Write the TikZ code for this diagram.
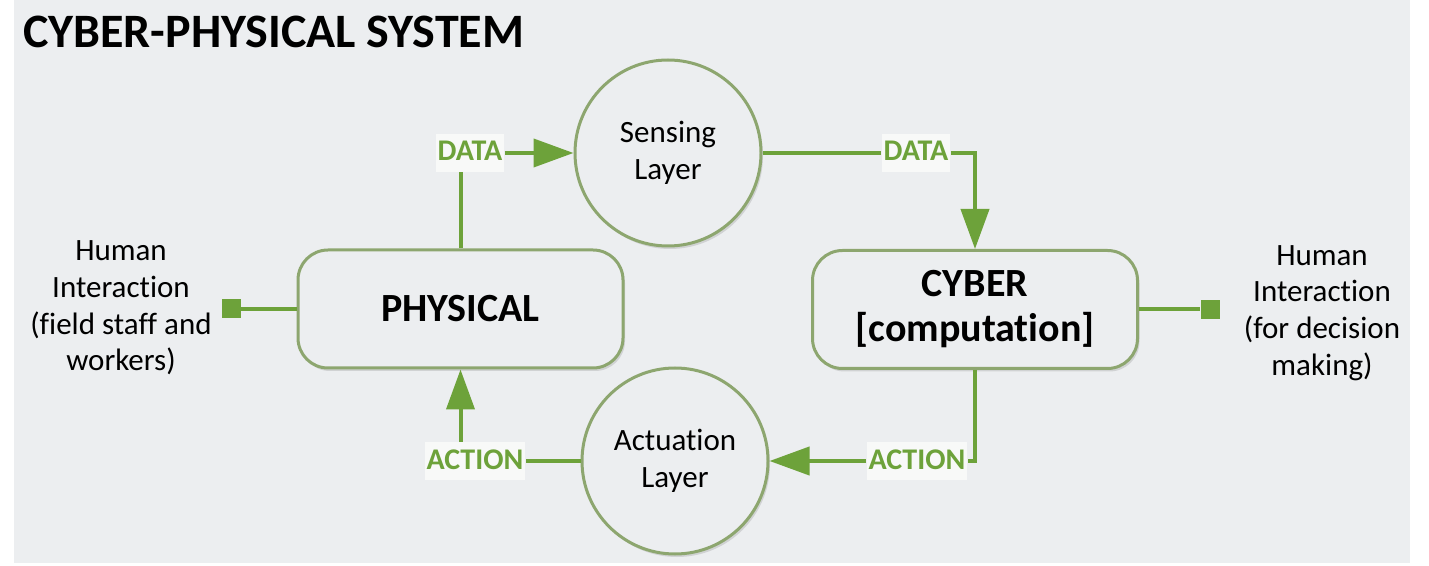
\documentclass[tikz,border=0pt]{standalone}
\usepackage{fontspec}
\setmainfont{Carlito}[Ligatures={NoCommon,NoRare,NoDiscretionary}]
\usetikzlibrary{arrows.meta,shadows}
\definecolor{panel}{HTML}{ECEEF0}
\definecolor{rim}{HTML}{8DA66F}
\definecolor{leaf}{HTML}{6DA23A}
\definecolor{tag}{HTML}{F8F9F8}
\begin{document}
\begin{tikzpicture}[x=0.5pt,y=-0.5pt,
    layer/.style={circle,draw=rim,line width=1.5pt,fill=panel,minimum size=93pt,align=center,
      font=\fontsize{15.5}{18.5}\selectfont,
      drop shadow={shadow xshift=1pt,shadow yshift=-1.5pt,opacity=.25}},
    block/.style={rectangle,rounded corners=15pt,draw=rim,line width=1.5pt,fill=panel,
      minimum width=162.5pt,minimum height=59pt,align=center,
      font=\fontsize{20}{22.5}\selectfont\bfseries,
      drop shadow={shadow xshift=1pt,shadow yshift=-1.5pt,opacity=.25}},
    flow/.style={fill=tag,text=leaf,inner xsep=1pt,inner ysep=3.5pt,text height=10pt,text depth=2pt,
      font=\fontsize{15}{18}\selectfont\bfseries},
    human/.style={align=center,font=\fontsize{15.5}{18.3}\selectfont},
    port/.style={rectangle,fill=leaf,minimum size=9.5pt,inner sep=0pt},
    link/.style={draw=leaf,line width=2pt},
    arr/.style={link,-{Triangle[length=20pt,width=14pt]}}]
      \useasboundingbox (0,0) rectangle (1429,566);
      \fill[white] (0,0) rectangle (1429,566);
      \fill[panel] (14,0) rectangle (1410,563);
      \node[anchor=base west,font=\fontsize{24}{28}\selectfont\bfseries] (title) at (16,48) {CYBER-PHYSICAL SYSTEM};
      \node[layer] (sense) at (668,153) {Sensing\\Layer};
      \node[layer] (act) at (675,461) {Actuation\\Layer};
      \node[block] (phys) at (460.5,309) {PHYSICAL};
      \node[block] (cyber) at (975,309.5) {CYBER\\{}[computation]};
      \node[flow] (dataL) at (470,153) {DATA};
      \node[flow] (dataR) at (916,153) {DATA};
      \node[flow] (actL) at (475,461) {ACTION};
      \node[flow] (actR) at (917,461) {ACTION};
      \node[port] (sqL) at (231.5,309) {};
      \node[port] (sqR) at (1210,309.5) {};
      \node[human] (humL) at (121,308) {Human\\Interaction\\(field staff and\\workers)};
      \node[human] (humR) at (1322,313) {Human\\Interaction\\(for decision\\making)};
      \draw[link] (phys.north) -- (phys.north |- dataL.south);
      \draw[arr] (dataL.east) -- (sense.west);
      \draw[link] (sense.east) -- (dataR.west);
      \draw[arr] (dataR.east) -| (cyber.north);
      \draw[link] (cyber.south) |- (actR.east);
      \draw[arr] (actR.west) -- (act.east);
      \draw[link] (act.west) -- (actL.east);
      \draw[arr] (phys.south |- actL.north) -- (phys.south);
      \draw[link] (phys.west) -- (sqL.east);
      \draw[link] (cyber.east) -- (sqR.west);
\end{tikzpicture}
\end{document}
